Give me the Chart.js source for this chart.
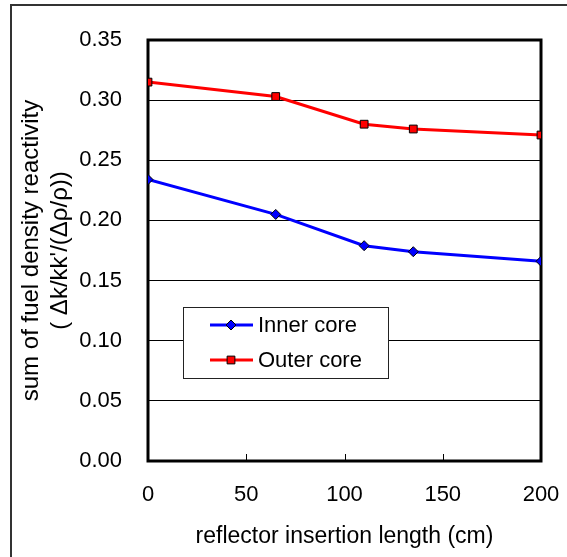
<!DOCTYPE html>
<html>
<head>
<meta charset="utf-8">
<script src="https://cdn.jsdelivr.net/npm/chart.js@4/dist/chart.umd.min.js"></script>
<style>
  html, body { margin: 0; padding: 0; background: #fff; overflow: hidden; }
  #wrap { position: relative; width: 567px; height: 557px; }
  #frame { position: absolute; left: 10px; top: 4px; width: 580px; height: 580px;
           border: 2px solid #333; pointer-events: none; }
</style>
</head>
<body>
<div id="wrap">
  <canvas id="grafica" width="567" height="557"></canvas>
  <div id="frame"></div>
</div>
<script>
// datos
var longitudes = [0, 65, 110, 135, 200];          // reflector insertion length (cm)
var nucleoInterno = [0.234, 0.205, 0.179, 0.174, 0.166];
var nucleoExterno = [0.315, 0.303, 0.280, 0.276, 0.271];
var etiquetas = ['Inner core', 'Outer core'];
var tituloX = 'reflector insertion length (cm)';
var tituloY = ['sum of fuel density reactivity', '( \u0394k/kk\'/(\u0394\u03c1/\u03c1))'];

var fuente = "'Liberation Sans', Arial, sans-serif";

function puntos(xs, ys) {
    var res = [];
    for (var i = 0; i < xs.length; i++) {
        res.push({ x: xs[i], y: ys[i] });
    }
    return res;
}

// marco grueso del area de la grafica + marcas del eje x
var marcoPlugin = {
    id: 'marco',
    beforeDatasetsDraw: function (chart) {
        var ctx = chart.ctx;
        var a = chart.chartArea;
        var sx = chart.scales.x;
        ctx.save();
        ctx.strokeStyle = '#000';
        ctx.lineWidth = 1;
        sx.ticks.forEach(function (t) {
            var px = Math.round(sx.getPixelForValue(t.value)) + 0.5;
            ctx.beginPath();
            ctx.moveTo(px, a.bottom);
            ctx.lineTo(px, a.bottom - 7);
            ctx.stroke();
        });
        ctx.lineWidth = 3;
        ctx.strokeRect(a.left, a.top, a.right - a.left, a.bottom - a.top);
        ctx.restore();
    }
};

// leyenda dentro del area
var leyendaPlugin = {
    id: 'leyenda',
    afterDraw: function (chart) {
        var ctx = chart.ctx;
        var a = chart.chartArea;
        var x0 = a.left + 35, y0 = a.top + 267, w = 205, h = 71;
        ctx.save();
        ctx.fillStyle = '#fff';
        ctx.fillRect(x0, y0, w, h);
        ctx.strokeStyle = '#222';
        ctx.lineWidth = 1;
        ctx.strokeRect(x0 + 0.5, y0 + 0.5, w, h);
        chart.data.datasets.forEach(function (ds, i) {
            var y = y0 + 18 + i * 35;
            ctx.strokeStyle = ds.borderColor;
            ctx.lineWidth = 3;
            ctx.beginPath();
            ctx.moveTo(x0 + 27, y);
            ctx.lineTo(x0 + 70, y);
            ctx.stroke();
            ctx.fillStyle = ds.pointBackgroundColor;
            ctx.strokeStyle = ds.pointBorderColor;
            ctx.lineWidth = 1;
            Chart.helpers.drawPoint(ctx, { pointStyle: ds.pointStyle, radius: ds.pointRadius, borderWidth: 1 }, x0 + 48, y);
            ctx.fillStyle = '#000';
            ctx.font = '22px ' + fuente;
            ctx.textBaseline = 'middle';
            ctx.textAlign = 'left';
            ctx.fillText(ds.label, x0 + 75, y + 1);
        });
        ctx.restore();
    }
};

var config = {
    type: 'line',
    data: {
        datasets: [{
            label: etiquetas[0],
            data: puntos(longitudes, nucleoInterno),
            borderColor: '#0000ff',
            borderWidth: 3,
            pointStyle: 'rectRot',
            pointRadius: 5,
            pointBackgroundColor: '#0000ff',
            pointBorderColor: '#000',
            pointBorderWidth: 1,
            tension: 0
        }, {
            label: etiquetas[1],
            data: puntos(longitudes, nucleoExterno),
            borderColor: '#ff0000',
            borderWidth: 3,
            pointStyle: 'rect',
            pointRadius: 5.5,
            pointBackgroundColor: '#ff0000',
            pointBorderColor: '#000',
            pointBorderWidth: 1,
            tension: 0
        }]
    },
    options: {
        responsive: false,
        animation: false,
        devicePixelRatio: 1,
        layout: { padding: { top: 40, right: 26, left: 0, bottom: 0 } },
        plugins: {
            legend: { display: false },
            tooltip: { enabled: false }
        },
        scales: {
            x: {
                type: 'linear',
                min: 0,
                max: 200,
                ticks: { stepSize: 50, padding: 21, color: '#000', font: { family: fuente, size: 22 }, maxRotation: 0 },
                grid: { display: false, drawTicks: false },
                border: { display: false },
                title: {
                    display: true,
                    text: tituloX,
                    color: '#000',
                    font: { family: fuente, size: 23 },
                    padding: { top: 0, bottom: 7 }
                },
                afterFit: function (s) { s.height = 96; s.paddingLeft = 0; s.paddingRight = 0; }
            },
            y: {
                min: 0,
                max: 0.35,
                ticks: {
                    stepSize: 0.05,
                    padding: 26,
                    color: '#000',
                    font: { family: fuente, size: 22 },
                    callback: function (v) { return v.toFixed(2); }
                },
                grid: { color: '#000', lineWidth: 1, drawTicks: false },
                border: { display: false },
                title: {
                    display: true,
                    text: tituloY,
                    color: '#000',
                    font: { family: fuente, size: 24, lineHeight: 1.2 },
                    padding: { top: 17, bottom: 0 }
                },
                afterFit: function (s) { s.width = 148; s.paddingTop = 0; s.paddingBottom = 0; }
            }
        }
    },
    plugins: [marcoPlugin, leyendaPlugin]
};

window.miGrafica = new Chart(document.getElementById('grafica'), config);
</script>
</body>
</html>
